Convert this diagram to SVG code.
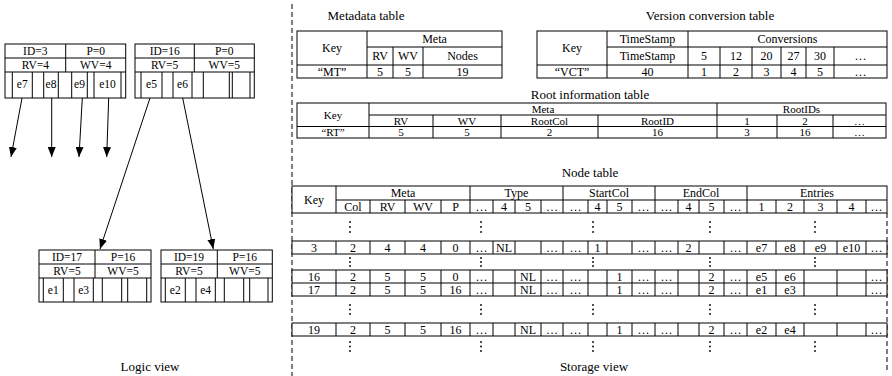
<svg xmlns="http://www.w3.org/2000/svg" width="892" height="376" viewBox="0 0 892 376">
<style>
text{font-family:"Liberation Serif","Times New Roman",serif;font-size:12px;fill:#000;text-anchor:middle}
.ttl{font-size:13px}
.nt{font-size:11.5px}
.sm{font-size:11px}
.ln,.bx{stroke:#000;stroke-width:1;fill:none}
.cell{stroke:#000;stroke-width:1;fill:#fff}
.bg{fill:#fff;stroke:none}
.dash{stroke:#000;stroke-width:1;stroke-dasharray:5 3;fill:none}
.arr{stroke:#000;stroke-width:1;fill:none;marker-end:url(#ah)}
.dot{fill:#000}
</style>
<defs>
<marker id="ah" viewBox="0 0 10 8" markerWidth="10" markerHeight="8" refX="10" refY="4" orient="auto" markerUnits="userSpaceOnUse"><path d="M0,0 L10,4 L0,8 z" fill="#000"/></marker>
</defs>
<rect class="bg" width="892" height="376"/>

<g id="separators">
<line class="dash" x1="292" y1="4" x2="292" y2="376"/>
<line class="dash" x1="887" y1="213" x2="887" y2="372"/>
</g>

<g id="node-3">
<rect class="bx" x="5" y="44" width="120.7" height="54"/>
<path class="ln" d="M5,58H125.7M5,72H125.7M65.7,44V72M12.3,72V98M32.3,72V98M43.7,72V98M58.3,72V98M71.7,72V98M87.3,72V98M94,72V98M121,72V98"/>
<text class="nt" x="35.3" y="55">ID=3</text><text class="nt" x="95.7" y="55">P=0</text>
<text class="nt" x="35.3" y="69">RV=4</text><text class="nt" x="95.7" y="69">WV=4</text>
<text class="nt" x="22.3" y="88">e7</text><text class="nt" x="51" y="88">e8</text><text class="nt" x="79.5" y="88">e9</text><text class="nt" x="107.5" y="88">e10</text>
</g>
<g id="node-16">
<rect class="bx" x="135" y="44" width="119.3" height="54"/>
<path class="ln" d="M135,58H254.3M135,72H254.3M194.3,44V72M141,72V98M162,72V98M173,72V98M192,72V98M203.3,72V98M229.3,72V98M232.3,72V98M250,72V98"/>
<text class="nt" x="164.7" y="55">ID=16</text><text class="nt" x="224.3" y="55">P=0</text>
<text class="nt" x="164.7" y="69">RV=5</text><text class="nt" x="224.3" y="69">WV=5</text>
<text class="nt" x="151.5" y="88">e5</text><text class="nt" x="182.5" y="88">e6</text>
</g>
<g id="node-17">
<rect class="bx" x="39" y="250" width="112" height="52"/>
<path class="ln" d="M39,264H151M39,278H151M95,250V278M43.3,278V302M63.3,278V302M74,278V302M93.3,278V302M102.3,278V302M121.7,278V302M127.7,278V302M146.7,278V302"/>
<text class="nt" x="67" y="261">ID=17</text><text class="nt" x="123" y="261">P=16</text>
<text class="nt" x="67" y="275">RV=5</text><text class="nt" x="123" y="275">WV=5</text>
<text class="nt" x="53.3" y="294">e1</text><text class="nt" x="83.7" y="294">e3</text>
</g>
<g id="node-19">
<rect class="bx" x="161" y="250" width="111.3" height="52"/>
<path class="ln" d="M161,264H272.3M161,278H272.3M217.3,250V278M165.3,278V302M185.3,278V302M196,278V302M215.3,278V302M224.3,278V302M243.7,278V302M249.7,278V302M268,278V302"/>
<text class="nt" x="189" y="261">ID=19</text><text class="nt" x="244.8" y="261">P=16</text>
<text class="nt" x="189" y="275">RV=5</text><text class="nt" x="244.8" y="275">WV=5</text>
<text class="nt" x="175.3" y="294">e2</text><text class="nt" x="205.7" y="294">e4</text>
</g>

<g id="connectors">
<line class="arr" x1="22" y1="98" x2="11" y2="157"/>
<line class="arr" x1="51.7" y1="98" x2="51.7" y2="157"/>
<line class="arr" x1="82.3" y1="98" x2="79" y2="157"/>
<line class="arr" x1="108.7" y1="98" x2="106.7" y2="157"/>
<line class="arr" x1="150" y1="98" x2="100" y2="249"/>
<line class="arr" x1="182.7" y1="98" x2="213.3" y2="249"/>
</g>

<g id="labels">
<text class="ttl" x="150" y="371">Logic view</text>
<text class="ttl" x="594" y="371">Storage view</text>
<text class="ttl" x="366" y="20">Metadata table</text>
<text class="ttl" x="710" y="20">Version conversion table</text>
<text class="ttl" x="590" y="99">Root information table</text>
<text class="ttl" x="590" y="177">Node table</text>
</g>

<g id="metadata-table">
<rect class="bx" x="297" y="31" width="205" height="47"/>
<path class="ln" d="M367,47H502M297,65H502M367,31V78M393,47V78M423,47V78"/>
<text x="332" y="52">Key</text><text x="434.5" y="43">Meta</text>
<text x="380" y="60">RV</text><text x="408" y="60">WV</text><text x="462.5" y="60">Nodes</text>
<text x="332" y="75.5">“MT”</text><text x="380" y="75.5">5</text><text x="408" y="75.5">5</text><text x="462.5" y="75.5">19</text>
</g>

<g id="version-table">
<rect class="bx" x="537" y="31" width="350" height="47"/>
<path class="ln" d="M607,47H887M537,65H887M607,31V78M688,31V78M720,47V78M752,47V78M781,47V78M806,47V78M834,47V78"/>
<text x="572" y="52">Key</text><text x="647.5" y="43">TimeStamp</text><text x="787.5" y="43">Conversions</text>
<text x="647.5" y="60">TimeStamp</text><text x="704" y="60">5</text><text x="736" y="60">12</text><text x="766.5" y="60">20</text><text x="793.5" y="60">27</text><text x="820" y="60">30</text><text x="860.5" y="60">…</text>
<text x="572" y="75.5">“VCT”</text><text x="647.5" y="75.5">40</text><text x="704" y="75.5">1</text><text x="736" y="75.5">2</text><text x="766.5" y="75.5">3</text><text x="793.5" y="75.5">4</text><text x="820" y="75.5">5</text><text x="860.5" y="75.5">…</text>
</g>

<g id="root-table">
<rect class="bx" x="297" y="103" width="589" height="35"/>
<path class="ln" d="M369,115H886M297,126.5H886M369,103V138M717,103V138M433,115V138M501,115V138M598,115V138M777,115V138M833,115V138"/>
<text class="sm" x="333" y="118.5">Key</text><text class="sm" x="543" y="112.5">Meta</text><text class="sm" x="801.5" y="112.5">RootIDs</text>
<text class="sm" x="401" y="124.5">RV</text><text class="sm" x="467" y="124.5">WV</text><text class="sm" x="549.5" y="124.5">RootCol</text><text class="sm" x="657.5" y="124.5">RootID</text><text class="sm" x="747" y="124.5">1</text><text class="sm" x="805" y="124.5">2</text><text class="sm" x="859.5" y="124.5">…</text>
<text class="sm" x="333" y="136">“RT”</text><text class="sm" x="401" y="136">5</text><text class="sm" x="467" y="136">5</text><text class="sm" x="549.5" y="136">2</text><text class="sm" x="657.5" y="136">16</text><text class="sm" x="747" y="136">3</text><text class="sm" x="805" y="136">16</text><text class="sm" x="859.5" y="136">…</text>
</g>

<g id="node-table">
<rect class="cell" x="292" y="186" width="595" height="27"/>
<path class="ln" d="M336,200H887M336,186V213M470,186V213M563,186V213M655,186V213M747,186V213M370,200V213M405,200V213M441,200V213M493,200V213M515,200V213M541,200V213M588,200V213M607,200V213M632,200V213M678,200V213M699,200V213M724,200V213M776,200V213M804,200V213M837,200V213M866,200V213"/>
<text x="314" y="203.5">Key</text><text x="403" y="197">Meta</text><text x="516.5" y="197">Type</text><text x="609" y="197">StartCol</text><text x="701" y="197">EndCol</text><text x="817" y="197">Entries</text>
<text x="353" y="210.5">Col</text><text x="387.5" y="210.5">RV</text><text x="423" y="210.5">WV</text><text x="455.5" y="210.5">P</text><text x="481.5" y="210.5">…</text><text x="504" y="210.5">4</text><text x="528" y="210.5">5</text><text x="552" y="210.5">…</text><text x="575.5" y="210.5">…</text><text x="597.5" y="210.5">4</text><text x="619.5" y="210.5">5</text><text x="643.5" y="210.5">…</text><text x="666.5" y="210.5">…</text><text x="688.5" y="210.5">4</text><text x="711.5" y="210.5">5</text><text x="735.5" y="210.5">…</text><text x="761.5" y="210.5">1</text><text x="790" y="210.5">2</text><text x="820.5" y="210.5">3</text><text x="851.5" y="210.5">4</text><text x="876.5" y="210.5">…</text>
<rect class="cell" x="292" y="241" width="595" height="13"/>
<path class="ln" d="M336,241V254M370,241V254M405,241V254M441,241V254M470,241V254M493,241V254M515,241V254M541,241V254M563,241V254M588,241V254M607,241V254M632,241V254M655,241V254M678,241V254M699,241V254M724,241V254M747,241V254M776,241V254M804,241V254M837,241V254M866,241V254"/>
<text x="314" y="251.5">3</text><text x="353" y="251.5">2</text><text x="387.5" y="251.5">4</text><text x="423" y="251.5">4</text><text x="455.5" y="251.5">0</text><text x="481.5" y="251.5">…</text><text x="504" y="251.5">NL</text><text x="552" y="251.5">…</text><text x="575.5" y="251.5">…</text><text x="597.5" y="251.5">1</text><text x="643.5" y="251.5">…</text><text x="666.5" y="251.5">…</text><text x="688.5" y="251.5">2</text><text x="735.5" y="251.5">…</text><text x="761.5" y="251.5">e7</text><text x="790" y="251.5">e8</text><text x="820.5" y="251.5">e9</text><text x="851.5" y="251.5">e10</text><text x="876.5" y="251.5">…</text>
<rect class="cell" x="292" y="270" width="595" height="26"/>
<path class="ln" d="M292,283H887M336,270V296M370,270V296M405,270V296M441,270V296M470,270V296M493,270V296M515,270V296M541,270V296M563,270V296M588,270V296M607,270V296M632,270V296M655,270V296M678,270V296M699,270V296M724,270V296M747,270V296M776,270V296M804,270V296M837,270V296M866,270V296"/>
<text x="314" y="280.5">16</text><text x="353" y="280.5">2</text><text x="387.5" y="280.5">5</text><text x="423" y="280.5">5</text><text x="455.5" y="280.5">0</text><text x="481.5" y="280.5">…</text><text x="528" y="280.5">NL</text><text x="552" y="280.5">…</text><text x="575.5" y="280.5">…</text><text x="619.5" y="280.5">1</text><text x="643.5" y="280.5">…</text><text x="666.5" y="280.5">…</text><text x="711.5" y="280.5">2</text><text x="735.5" y="280.5">…</text><text x="761.5" y="280.5">e5</text><text x="790" y="280.5">e6</text><text x="876.5" y="280.5">…</text>
<text x="314" y="293.5">17</text><text x="353" y="293.5">2</text><text x="387.5" y="293.5">5</text><text x="423" y="293.5">5</text><text x="455.5" y="293.5">16</text><text x="481.5" y="293.5">…</text><text x="528" y="293.5">NL</text><text x="552" y="293.5">…</text><text x="575.5" y="293.5">…</text><text x="619.5" y="293.5">1</text><text x="643.5" y="293.5">…</text><text x="666.5" y="293.5">…</text><text x="711.5" y="293.5">2</text><text x="735.5" y="293.5">…</text><text x="761.5" y="293.5">e1</text><text x="790" y="293.5">e3</text><text x="876.5" y="293.5">…</text>
<rect class="cell" x="292" y="323" width="595" height="13"/>
<path class="ln" d="M336,323V336M370,323V336M405,323V336M441,323V336M470,323V336M493,323V336M515,323V336M541,323V336M563,323V336M588,323V336M607,323V336M632,323V336M655,323V336M678,323V336M699,323V336M724,323V336M747,323V336M776,323V336M804,323V336M837,323V336M866,323V336"/>
<text x="314" y="333.5">19</text><text x="353" y="333.5">2</text><text x="387.5" y="333.5">5</text><text x="423" y="333.5">5</text><text x="455.5" y="333.5">16</text><text x="481.5" y="333.5">…</text><text x="528" y="333.5">NL</text><text x="552" y="333.5">…</text><text x="575.5" y="333.5">…</text><text x="619.5" y="333.5">1</text><text x="643.5" y="333.5">…</text><text x="666.5" y="333.5">…</text><text x="711.5" y="333.5">2</text><text x="735.5" y="333.5">…</text><text x="761.5" y="333.5">e2</text><text x="790" y="333.5">e4</text><text x="876.5" y="333.5">…</text>
<g class="dot">
<circle cx="350" cy="222" r="0.9"/><circle cx="350" cy="227" r="0.9"/><circle cx="350" cy="232" r="0.9"/>
<circle cx="481" cy="222" r="0.9"/><circle cx="481" cy="227" r="0.9"/><circle cx="481" cy="232" r="0.9"/>
<circle cx="593" cy="222" r="0.9"/><circle cx="593" cy="227" r="0.9"/><circle cx="593" cy="232" r="0.9"/>
<circle cx="710" cy="222" r="0.9"/><circle cx="710" cy="227" r="0.9"/><circle cx="710" cy="232" r="0.9"/>
<circle cx="815" cy="222" r="0.9"/><circle cx="815" cy="227" r="0.9"/><circle cx="815" cy="232" r="0.9"/>
<circle cx="350" cy="258" r="0.9"/><circle cx="350" cy="262" r="0.9"/><circle cx="350" cy="266" r="0.9"/>
<circle cx="481" cy="258" r="0.9"/><circle cx="481" cy="262" r="0.9"/><circle cx="481" cy="266" r="0.9"/>
<circle cx="593" cy="258" r="0.9"/><circle cx="593" cy="262" r="0.9"/><circle cx="593" cy="266" r="0.9"/>
<circle cx="710" cy="258" r="0.9"/><circle cx="710" cy="262" r="0.9"/><circle cx="710" cy="266" r="0.9"/>
<circle cx="815" cy="258" r="0.9"/><circle cx="815" cy="262" r="0.9"/><circle cx="815" cy="266" r="0.9"/>
<circle cx="350" cy="305" r="0.9"/><circle cx="350" cy="309.5" r="0.9"/><circle cx="350" cy="314" r="0.9"/>
<circle cx="481" cy="305" r="0.9"/><circle cx="481" cy="309.5" r="0.9"/><circle cx="481" cy="314" r="0.9"/>
<circle cx="593" cy="305" r="0.9"/><circle cx="593" cy="309.5" r="0.9"/><circle cx="593" cy="314" r="0.9"/>
<circle cx="710" cy="305" r="0.9"/><circle cx="710" cy="309.5" r="0.9"/><circle cx="710" cy="314" r="0.9"/>
<circle cx="815" cy="305" r="0.9"/><circle cx="815" cy="309.5" r="0.9"/><circle cx="815" cy="314" r="0.9"/>
<circle cx="350" cy="342" r="0.9"/><circle cx="350" cy="346.5" r="0.9"/><circle cx="350" cy="351" r="0.9"/>
<circle cx="481" cy="342" r="0.9"/><circle cx="481" cy="346.5" r="0.9"/><circle cx="481" cy="351" r="0.9"/>
<circle cx="593" cy="342" r="0.9"/><circle cx="593" cy="346.5" r="0.9"/><circle cx="593" cy="351" r="0.9"/>
<circle cx="710" cy="342" r="0.9"/><circle cx="710" cy="346.5" r="0.9"/><circle cx="710" cy="351" r="0.9"/>
<circle cx="815" cy="342" r="0.9"/><circle cx="815" cy="346.5" r="0.9"/><circle cx="815" cy="351" r="0.9"/>
</g>
</g>
</svg>
